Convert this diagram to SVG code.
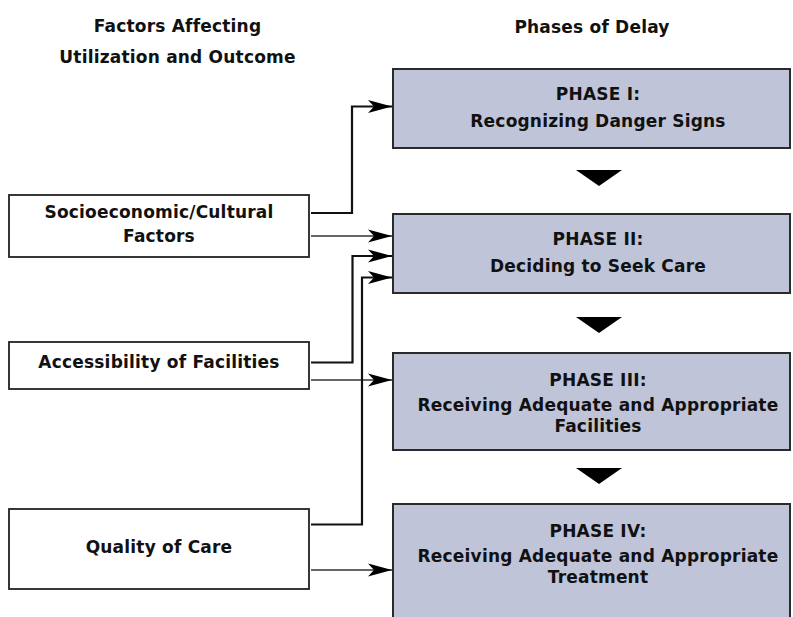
<svg xmlns="http://www.w3.org/2000/svg" width="793" height="617" viewBox="0 0 793 617">
  <defs>
    <style>
      text { font-family: "DejaVu Sans", "Liberation Sans", sans-serif; font-size: 17px; font-weight: bold; letter-spacing: 0.2px; fill: #111; text-anchor: middle; }
      .factor { fill: #fff; stroke: #222; stroke-width: 1.8; }
      .phase { fill: #c0c4d8; stroke: #2a2a2a; stroke-width: 2; }
      .thick { fill: none; stroke: #111; stroke-width: 2.2; marker-end: url(#head); }
      .thin { fill: none; stroke: #333; stroke-width: 1.4; marker-end: url(#head); }
      .step { fill: #000; }
    </style>
    <marker id="head" viewBox="0 0 24 14" refX="24" refY="7" markerWidth="24" markerHeight="14" markerUnits="userSpaceOnUse" orient="auto">
      <path d="M0,0.5 L24,7 L0,13.5 L6,7 Z" fill="#000"/>
    </marker>
  </defs>

  <rect width="793" height="617" fill="#fff"/>

  <!-- column headings -->
  <g id="headings">
    <text x="177.5" y="32">Factors Affecting</text>
    <text x="177.5" y="63">Utilization and Outcome</text>
    <text x="592" y="33">Phases of Delay</text>
  </g>

  <!-- factor nodes -->
  <g id="socio">
    <rect class="factor" x="9" y="195" width="300" height="62"/>
    <text x="159" y="218">Socioeconomic/Cultural</text>
    <text x="159" y="242">Factors</text>
  </g>
  <g id="access">
    <rect class="factor" x="9" y="342" width="300" height="47"/>
    <text x="159" y="368">Accessibility of Facilities</text>
  </g>
  <g id="quality">
    <rect class="factor" x="9" y="509" width="300" height="80"/>
    <text x="159" y="553">Quality of Care</text>
  </g>

  <!-- phase nodes -->
  <g id="phase1">
    <rect class="phase" x="393" y="69" width="397" height="79"/>
    <text x="598" y="100">PHASE I:</text>
    <text x="598" y="127">Recognizing Danger Signs</text>
  </g>
  <g id="phase2">
    <rect class="phase" x="393" y="214" width="397" height="79"/>
    <text x="598" y="245">PHASE II:</text>
    <text x="598" y="272">Deciding to Seek Care</text>
  </g>
  <g id="phase3">
    <rect class="phase" x="393" y="353" width="397" height="97"/>
    <text x="598" y="386">PHASE III:</text>
    <text x="598" y="411">Receiving Adequate and Appropriate</text>
    <text x="598" y="432">Facilities</text>
  </g>
  <g id="phase4">
    <rect class="phase" x="393" y="504" width="397" height="130"/>
    <text x="598" y="537">PHASE IV:</text>
    <text x="598" y="562">Receiving Adequate and Appropriate</text>
    <text x="598" y="583">Treatment</text>
  </g>

  <!-- connectors -->
  <g id="connectors">
    <path class="thick" d="M311,213 H352 V106.5 H392"/>
    <path class="thin" d="M311,236 H392"/>
    <path class="thick" d="M311,362.5 H352.5 V256 H392"/>
    <path class="thin" d="M311,380 H392"/>
    <path class="thick" d="M311,524.5 H362 V277.5 H392"/>
    <path class="thin" d="M311,570 H392"/>
    <path class="step" d="M576,170 H622 L599,186 Z"/>
    <path class="step" d="M576,317 H622 L599,333 Z"/>
    <path class="step" d="M576,468 H622 L599,484 Z"/>
  </g>
</svg>
